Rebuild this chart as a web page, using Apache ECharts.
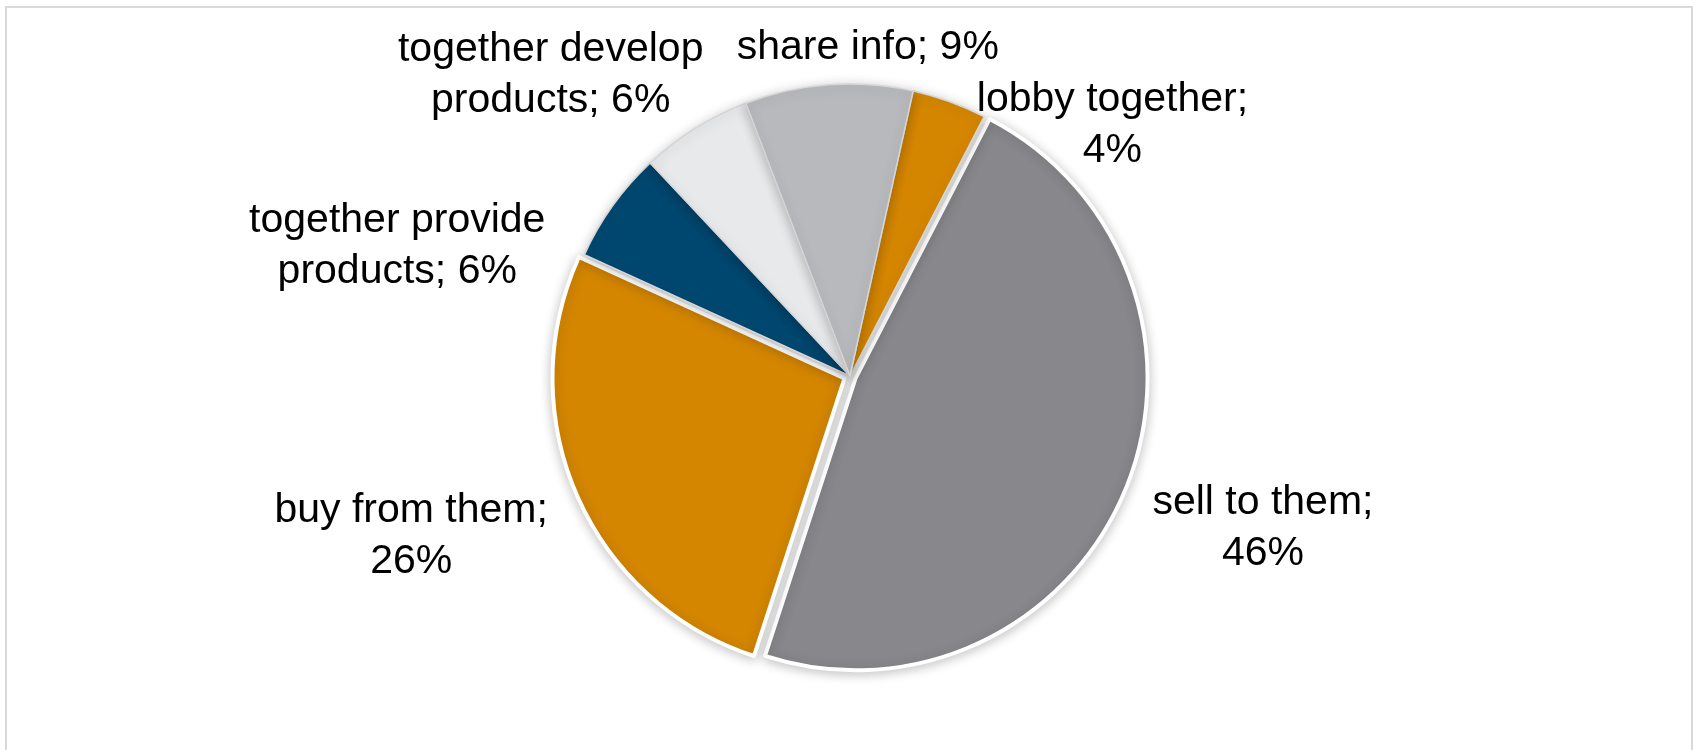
<!DOCTYPE html>
<html>
<head>
<meta charset="utf-8">
<title>Cooperation with competitors</title>
<script src="https://cdn.jsdelivr.net/npm/echarts@6/dist/echarts.min.js"></script>
<style>
  html, body { margin: 0; padding: 0; background: #ffffff; }
  #chart { width: 1694px; height: 750px; }
</style>
</head>
<body>
<div id="chart"></div>
<script>
// Kinds of cooperation, clockwise from the top of the pie
const categories = [
  'lobby together',
  'sell to them',
  'buy from them',
  'together provide products',
  'together develop products',
  'share info'
];
// Share of answers, percent
const shares = [4, 46, 26, 6, 6, 9];
// How each label is broken over lines
const labelLines = [
  ['lobby together;', '{v}'],
  ['sell to them;', '{v}'],
  ['buy from them;', '{v}'],
  ['together provide', 'products; {v}'],
  ['together develop', 'products; {v}'],
  ['share info; {v}']
];

const colors = ['#D48600', '#88878C', '#D48600', '#00476F', '#E8E9EB', '#B8B9BC'];
// Slices pulled out from the centre
const pulledOut = [false, true, true, false, false, false];
// Where each label sits around the pie: [angle clockwise from top in degrees, distance from centre in px]
const labelPolar = [
  [46.3, 363],
  [110.2, 440],
  [250.0, 467],
  [286.0, 471],
  [315.1, 424],
  [3.1, 329]
];

const CX = 850, CY = 376, R = 292;
const HIDDEN = { color: 'rgba(0,0,0,0)', borderWidth: 0, shadowBlur: 0, shadowColor: 'rgba(0,0,0,0)' };

const chart = echarts.init(document.getElementById('chart'), null, { renderer: 'canvas' });

function sliceStyle(i) {
  return pulledOut[i]
    ? { color: colors[i], borderColor: '#ffffff', borderWidth: 4 }
    : { color: colors[i], borderColor: '#d6d6d8', borderWidth: 1.5 };
}

// Pie carrying the slices that stay in place, plus every label
const mainData = categories.map((name, i) => ({
  name: name,
  value: shares[i],
  itemStyle: pulledOut[i] ? HIDDEN : sliceStyle(i),
  label: { formatter: labelLines[i].join('\n').replace('{v}', shares[i] + '%') }
}));

// Pie carrying the slices that are pulled out
const pulledData = categories.map((name, i) => ({
  name: name,
  value: shares[i],
  selected: pulledOut[i],
  itemStyle: pulledOut[i] ? sliceStyle(i) : HIDDEN
}));

const common = {
  type: 'pie',
  center: [CX, CY],
  radius: [0, R],
  startAngle: 77.5,
  clockwise: true,
  silent: true,
  avoidLabelOverlap: false,
  emphasis: { disabled: true },
  itemStyle: {
    shadowBlur: 12,
    shadowColor: 'rgba(0,0,0,0.22)',
    shadowOffsetY: 2
  },
  labelLine: { show: false }
};

chart.setOption({
  animation: false,
  backgroundColor: '#ffffff',
  graphic: [{
    type: 'rect',
    shape: { x: 6, y: 7, width: 1686, height: 780 },
    style: { fill: 'none', stroke: '#d9d9d9', lineWidth: 2 },
    silent: true,
    z: -1
  }],
  series: [
    Object.assign({}, common, {
      name: 'pulled',
      selectedMode: 'multiple',
      selectedOffset: 6,
      label: { show: false },
      data: pulledData
    }),
    Object.assign({}, common, {
      name: 'main',
      selectedMode: false,
      label: {
        show: true,
        position: 'outside',
        color: '#000000',
        fontFamily: '"Liberation Sans", Arial, sans-serif',
        fontSize: 41,
        lineHeight: 51,
        align: 'center'
      },
      labelLayout: function (params) {
        const p = labelPolar[params.dataIndex];
        const a = p[0] * Math.PI / 180;
        return {
          x: CX + p[1] * Math.sin(a),
          y: CY - p[1] * Math.cos(a),
          align: 'center',
          verticalAlign: 'middle'
        };
      },
      data: mainData
    })
  ]
});
</script>
</body>
</html>
